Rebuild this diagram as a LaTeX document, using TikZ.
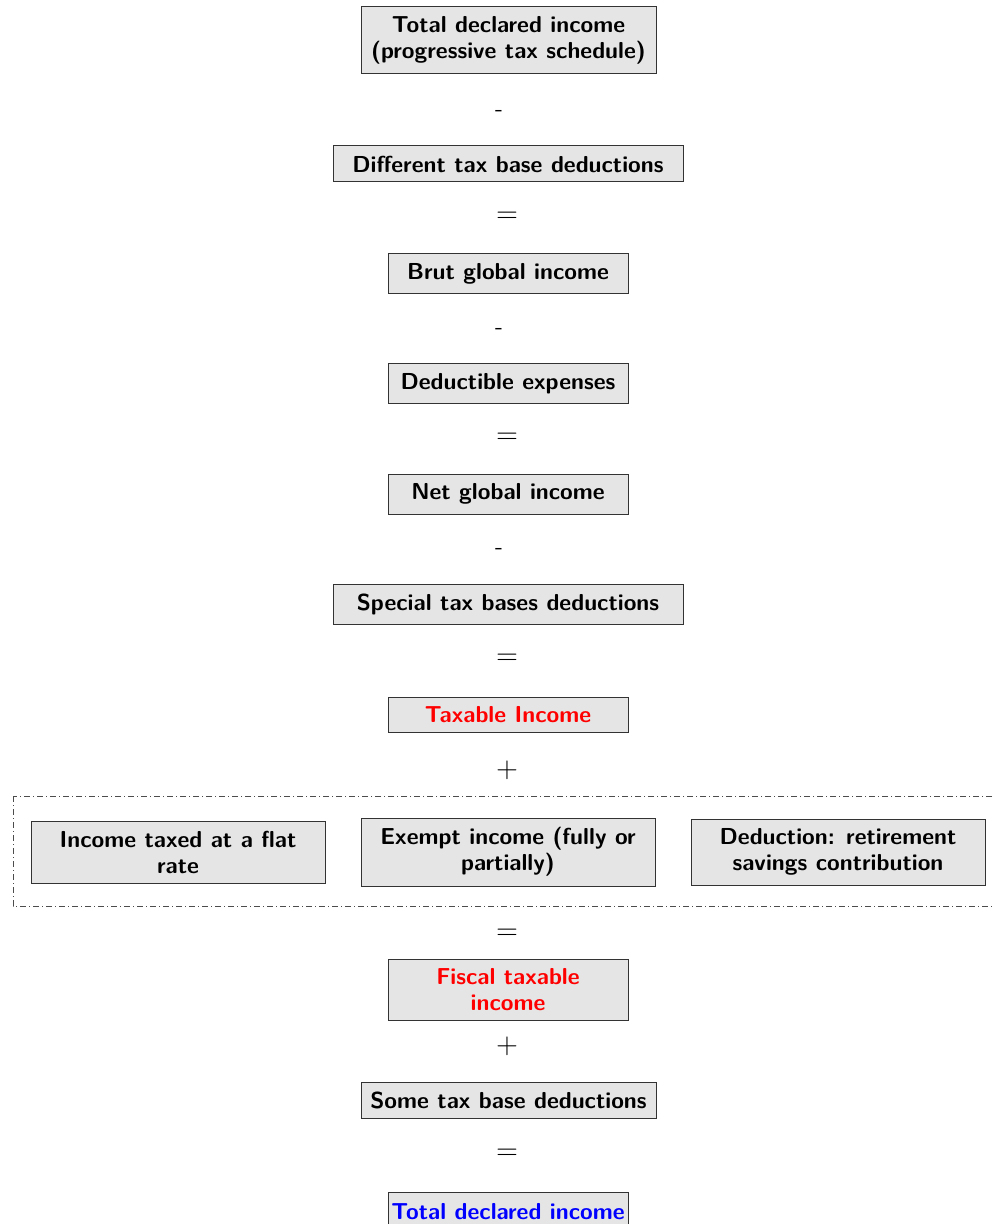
\documentclass[tikz,border=0pt]{standalone}
\usetikzlibrary{positioning}
\begin{document}
\begin{tikzpicture}[x=0.5pt,y=-0.5pt,
  box/.style={draw=black!80, line width=0.5pt, fill=black!10, align=center, inner sep=0pt,
    font=\fontsize{11.55}{13}\selectfont\sffamily\bfseries},
  sign/.style={inner sep=0pt, font=\fontsize{13.5}{14}\selectfont},
  dashsign/.style={inner sep=0pt, font=\fontsize{12}{13}\selectfont\sffamily}]
\useasboundingbox (0,0) rectangle (992,1224);
\clip (0,0) rectangle (992,1224);
\node[box, minimum width=147.5pt, minimum height=33.5pt] (tdi) at (508.5,40.5) {Total declared income\\(progressive tax schedule)};
\node[dashsign] (m1) at (499,113) {-};
\node[box, minimum width=175pt, minimum height=18pt] (dtbd) at (508,164) {Different tax base deductions};
\node[sign] (e1) at (507,217) {$=$};
\node[box, minimum width=120pt, minimum height=20pt] (bgi) at (508,274) {Brut global income};
\node[dashsign] (m2) at (499,331) {-};
\node[box, minimum width=120pt, minimum height=20pt] (de) at (508,384) {Deductible expenses};
\node[sign] (e2) at (507,438) {$=$};
\node[box, minimum width=120pt, minimum height=20pt] (ngi) at (508,494) {Net global income};
\node[dashsign] (m3) at (499,551) {-};
\node[box, minimum width=175pt, minimum height=20pt] (stbd) at (508,604) {Special tax bases deductions};
\node[sign] (e3) at (507,659) {$=$};
\node[box, minimum width=120pt, minimum height=17.5pt, text=red] (ti) at (508,714.5) {Taxable Income};
\node[sign] (p1) at (507,770) {$+$};
\draw[black!70, line width=0.5pt, dash pattern=on 3pt off 1.5pt on 0.5pt off 1.5pt] (13,796) rectangle (1010,906);
\node[box, minimum width=147pt, minimum height=31pt] (flat) at (178,852) {Income taxed at a flat\\rate};
\node[box, minimum width=147pt, minimum height=34pt] (exempt) at (508,852) {Exempt income (fully or\\partially)};
\node[box, minimum width=147pt, minimum height=33pt] (retire) at (838,852) {Deduction: retirement\\savings contribution};
\node[sign] (e4) at (507,934) {$=$};
\node[box, minimum width=120pt, minimum height=30.5pt, text=red] (fti) at (508,989.5) {Fiscal taxable\\income};
\node[sign] (p2) at (507,1046) {$+$};
\node[box, minimum width=147.5pt, minimum height=18pt] (stbd2) at (508.5,1100) {Some tax base deductions};
\node[sign] (e5) at (507,1154) {$=$};
\node[box, minimum width=120pt, minimum height=20pt, text=blue] (tdi2) at (508,1212) {Total declared income};
\end{tikzpicture}
\end{document}
